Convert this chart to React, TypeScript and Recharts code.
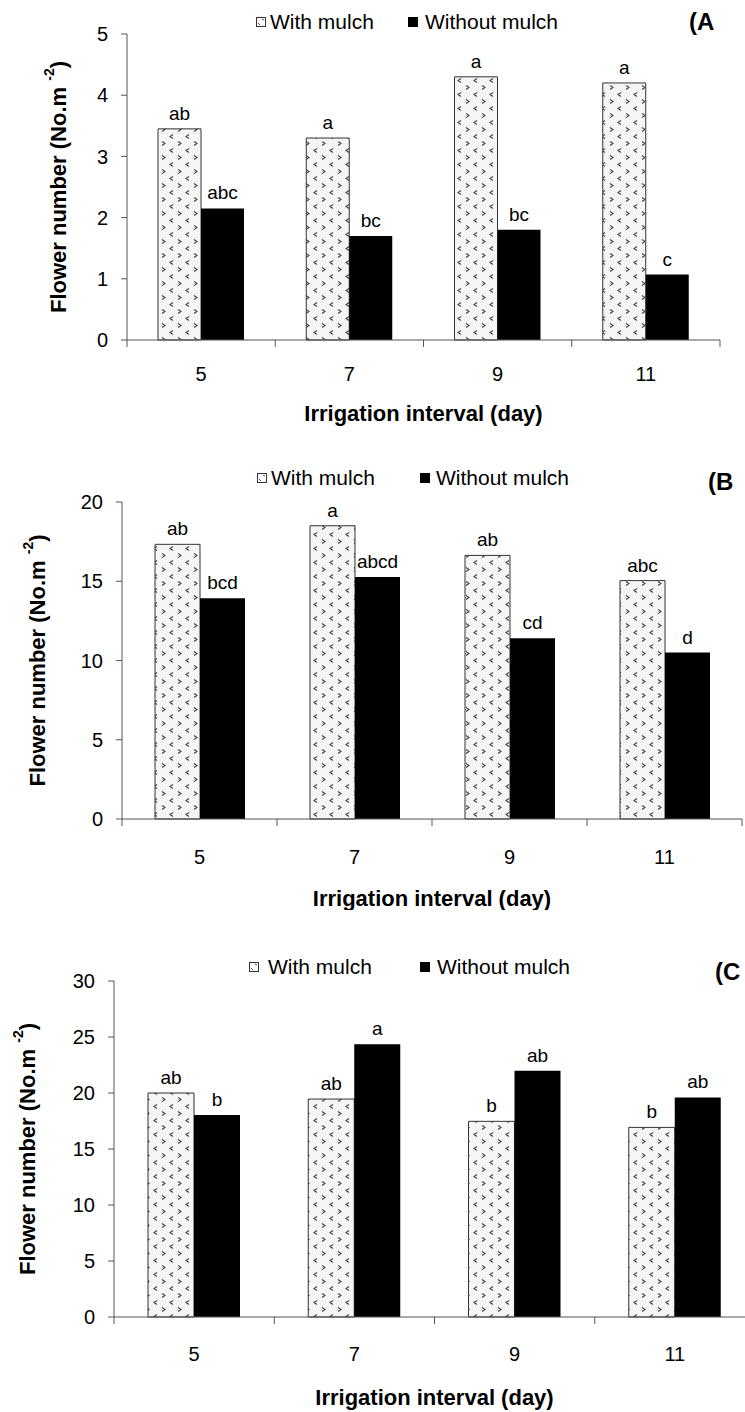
import React from "react";
import { BarChart, Bar, XAxis, YAxis, LabelList } from "recharts";

// irrigation intervals (days)
const days = ["5", "7", "9", "11"];

// (A)
const withA = [3.45, 3.3, 4.3, 4.2];
const withoutA = [2.15, 1.7, 1.8, 1.07];
const lettersWithA = ["ab", "a", "a", "a"];
const lettersWithoutA = ["abc", "bc", "bc", "c"];
const ticksA = [0, 1, 2, 3, 4, 5];

// (B)
const withB = [17.33, 18.5, 16.63, 15.04];
const withoutB = [13.93, 15.27, 11.4, 10.5];
const lettersWithB = ["ab", "a", "ab", "abc"];
const lettersWithoutB = ["bcd", "abcd", "cd", "d"];
const ticksB = [0, 5, 10, 15, 20];

// (C)
const withC = [20.0, 19.46, 17.47, 16.93];
const withoutC = [18.03, 24.36, 21.98, 19.6];
const lettersWithC = ["ab", "ab", "b", "b"];
const lettersWithoutC = ["b", "a", "ab", "ab"];
const ticksC = [0, 5, 10, 15, 20, 25, 30];

const FONT = "'Liberation Sans', Arial, Helvetica, sans-serif";
const AXIS = "#555";
const Y_AXIS_W = 60;

const build = (w: number[], wo: number[], lw: string[], lwo: string[]) =>
  days.map((d, i) => ({ day: d, with: w[i], without: wo[i], lw: lw[i], lwo: lwo[i] }));

const XTick = (props: any) => {
  const { x, y, payload, index, band, count, labelDy } = props;
  const half = band / 2;
  return (
    <g>
      <line x1={x - half} x2={x - half} y1={y} y2={y + 7} stroke={AXIS} />
      {index === count - 1 && <line x1={x + half} x2={x + half} y1={y} y2={y + 7} stroke={AXIS} />}
      <text x={x} y={y + labelDy} textAnchor="middle" dominantBaseline="central" fontSize={20} fill="#000" fontFamily={FONT}>
        {payload.value}
      </text>
    </g>
  );
};

const PatternDef = ({ id }: { id: string }) => (
  <defs>
    <pattern id={id} patternUnits="userSpaceOnUse" width={16} height={14}>
      <rect width={16} height={14} fill="#f5f5f5" />
      <path d="M2 1.5 L5 3.5 L2 5.5" fill="none" stroke="#444" strokeWidth={1.1} />
      <path d="M13 8.5 L10 10.5 L13 12.5" fill="none" stroke="#444" strokeWidth={1.1} />
    </pattern>
  </defs>
);

type PanelProps = {
  id: string;
  top: number;
  width: number;
  height: number;
  margin: { top: number; right: number; bottom: number; left: number };
  ticks: number[];
  data: any[];
  barSize: number;
  yLabelX: number;
  xTickDy: number;
  xTitleDy: number;
  legendY: number;
  legendX: [number, number, number, number];
  tag: string;
  tagX: number;
  tagY: number;
};

function Panel(p: PanelProps) {
  const plotW = p.width - p.margin.left - p.margin.right - Y_AXIS_W;
  const band = plotW / days.length;
  const max = p.ticks[p.ticks.length - 1];
  return (
    <div style={{ position: "absolute", left: 0, top: p.top, width: 745, height: p.height, overflow: "hidden" }}>
      <BarChart width={p.width} height={p.height} data={p.data} margin={p.margin} barGap={0} barSize={p.barSize}>
        <PatternDef id={p.id} />
        <XAxis
          dataKey="day"
          interval={0}
          height={60}
          tickSize={0}
          tickMargin={0}
          tickLine={false}
          axisLine={{ stroke: AXIS }}
          tick={(t: any) => <XTick {...t} band={band} count={days.length} labelDy={p.xTickDy} />}
          label={(lp: any) => {
            const vb = lp.viewBox || {};
            return (
              <text
                x={vb.x + vb.width / 2}
                y={vb.y + p.xTitleDy}
                textAnchor="middle"
                dominantBaseline="central"
                fontSize={22}
                fontWeight="bold"
                fontFamily={FONT}
                fill="#000"
              >
                Irrigation interval (day)
              </text>
            );
          }}
        />
        <YAxis
          width={Y_AXIS_W}
          domain={[0, max]}
          ticks={p.ticks}
          interval={0}
          tickSize={6}
          tickMargin={13}
          axisLine={{ stroke: AXIS }}
          tickLine={{ stroke: AXIS }}
          tick={{ fontSize: 20, fill: "#000", fontFamily: FONT }}
          label={(lp: any) => {
            const vb = lp.viewBox || {};
            const cy = vb.y + vb.height / 2;
            return (
              <text
                x={p.yLabelX}
                y={cy}
                transform={`rotate(-90, ${p.yLabelX}, ${cy})`}
                textAnchor="middle"
                dominantBaseline="central"
                fontSize={22}
                fontWeight="bold"
                fontFamily={FONT}
                fill="#000"
              >
                Flower number (No.m{" "}
                <tspan dy={-9} fontSize={14}>
                  -2
                </tspan>
                <tspan dy={9}>)</tspan>
              </text>
            );
          }}
        />
        <Bar dataKey="with" fill={`url(#${p.id})`} stroke="#333" strokeWidth={1} isAnimationActive={false}>
          <LabelList dataKey="lw" position="top" offset={9} fill="#000" fontSize={19} fontFamily={FONT} />
        </Bar>
        <Bar dataKey="without" fill="#000" isAnimationActive={false}>
          <LabelList dataKey="lwo" position="top" offset={9} fill="#000" fontSize={19} fontFamily={FONT} />
        </Bar>
      </BarChart>

      {/* legend */}
      <svg style={{ position: "absolute", left: p.legendX[0], top: p.legendY - 5 }} width={10} height={10}>
        <rect x={0.5} y={0.5} width={9} height={9} fill="#fff" stroke="#333" />
        <path d="M2 6 L4 8 M6 2 L8 3" stroke="#555" />
      </svg>
      <div style={{ position: "absolute", left: p.legendX[1], top: p.legendY - 12, fontFamily: FONT, fontSize: 21, lineHeight: "24px", whiteSpace: "nowrap" }}>
        With mulch
      </div>
      <svg style={{ position: "absolute", left: p.legendX[2], top: p.legendY - 5 }} width={10} height={10}>
        <rect x={0} y={0} width={10} height={10} fill="#000" />
      </svg>
      <div style={{ position: "absolute", left: p.legendX[3], top: p.legendY - 12, fontFamily: FONT, fontSize: 21, lineHeight: "24px", whiteSpace: "nowrap" }}>
        Without mulch
      </div>
      <div style={{ position: "absolute", left: p.tagX, top: p.tagY - 14, fontFamily: FONT, fontSize: 24, fontWeight: "bold", lineHeight: "28px", whiteSpace: "nowrap" }}>
        {p.tag}
      </div>
    </div>
  );
}

export default function App() {
  return (
    <div style={{ position: "absolute", left: 0, top: 0, width: 745, height: 1412, overflow: "hidden", background: "#fff" }}>
      <Panel
        id="patA"
        top={0}
        width={745}
        height={440}
        margin={{ top: 34, right: 25, bottom: 40, left: 127 - Y_AXIS_W }}
        ticks={ticksA}
        data={build(withA, withoutA, lettersWithA, lettersWithoutA)}
        barSize={43}
        yLabelX={58}
        xTickDy={34}
        xTitleDy={73}
        legendY={22}
        legendX={[256, 270, 408, 425]}
        tag="(A"
        tagX={689}
        tagY={22}
      />
      <Panel
        id="patB"
        top={440}
        width={745}
        height={470}
        margin={{ top: 62, right: 3, bottom: 31, left: 122 - Y_AXIS_W }}
        ticks={ticksB}
        data={build(withB, withoutB, lettersWithB, lettersWithoutB)}
        barSize={45}
        yLabelX={37}
        xTickDy={38}
        xTitleDy={79}
        legendY={38}
        legendX={[257, 271, 420, 436]}
        tag="(B"
        tagX={708}
        tagY={42}
      />
      <Panel
        id="patC"
        top={900}
        width={760}
        height={512}
        margin={{ top: 81, right: 5, bottom: 35, left: 114 - Y_AXIS_W }}
        ticks={ticksC}
        data={build(withC, withoutC, lettersWithC, lettersWithoutC)}
        barSize={46}
        yLabelX={27}
        xTickDy={37}
        xTitleDy={80}
        legendY={67}
        legendX={[249, 268, 420, 437]}
        tag="(C"
        tagX={715}
        tagY={72}
      />
    </div>
  );
}
